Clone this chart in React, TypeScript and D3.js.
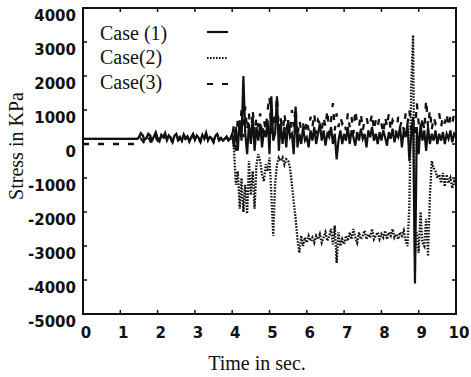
import React from 'react';
import * as d3 from 'd3';

// samples every 0.05 s, one row per second
const dt = 0.05;

const case1: number[] = [
  150, 150, 150, 150, 150, 150, 150, 150, 150, 150, 150, 150, 150, 150, 150, 150, 150, 150, 150, 150,
  150, 150, 150, 150, 150, 150, 150, 150, 150, 150, 200, 320, 250, 120, 180, 300, 240, 100, 220, 340,
  160, 80, 270, 200, 320, 110, 250, 180, 60, 240, 300, 140, 210, 90, 280, 160, 230, 70, 200, 300,
  120, 250, 180, 90, 270, 150, 330, 100, 210, 170, 60, 240, 300, 130, 180, 100, 150, 220, 120, 160,
  300, -100, 500, -200, 700, 100, 2000, 300, -300, 600, 0, 800, -200, 500, 100, 600, -100, 400, 200, 700,
  -300, 1400, 100, 300, 1400, -200, 600, 0, 500, -100, 700, 200, 300, -300, 1100, -100, 300, 0, 500, 100,
  200, -100, 400, 100, 500, 0, 300, 600, 100, 400, -50, 300, 200, 500, 0, 300, -450, 100, 400, 0,
  300, 100, 500, 0, 400, 200, -50, 350, 100, 450, 150, 300, -100, 400, 200, 500, 100, 300, 0, 350,
  100, 400, 200, -50, 350, 150, 450, 50, 300, 200, 500, -100, 400, 200, 600, -500, 300, 800, -4100, 500,
  -300, 600, 100, 400, -200, 500, 0, 300, 100, 400, 0, 300, 100, 350, 0, 300, 150, 400, 50, 300,
  200,
];

const case2: number[] = [
  150, 150, 150, 150, 150, 150, 150, 150, 150, 150, 150, 150, 150, 150, 150, 150, 150, 150, 150, 150,
  150, 150, 150, 150, 150, 150, 150, 150, 150, 150, 180, 300, 260, 140, 170, 280, 250, 120, 200, 320,
  180, 100, 250, 210, 300, 130, 240, 190, 80, 230, 280, 150, 200, 110, 260, 170, 220, 90, 190, 280,
  140, 240, 170, 100, 250, 160, 310, 120, 200, 180, 80, 230, 280, 140, 170, 110, 160, 210, 130, 150,
  300, -200, -1200, -800, -1900, -1000, -2000, -1200, -2050, -500, -1500, -800, -1900, -600, -300, -500, -900, -1100, -600, -800,
  -400, -1500, -2700, -1200, -600, -400, -500, -400, -600, -450, -500, -700, -1200, -1700, -2200, -2800, -3200, -2700, -3000, -2750,
  -2900, -2700, -2850, -2750, -2900, -2700, -2800, -2650, -2900, -2750, -2600, -2850, -2700, -2500, -2950, -2400, -3500, -2600, -3000, -2800,
  -2950, -2700, -2850, -2600, -2800, -2500, -2750, -2900, -2600, -2800, -2700, -2550, -2800, -2650, -2750, -2500, -2800, -2700, -2600, -2800,
  -2650, -2750, -2550, -2800, -2600, -2700, -2500, -2750, -2650, -2800, -2600, -2700, -2550, -2850, -3000, -1800, 1700, 3200, -3300, -2600,
  -3200, -2000, -2900, -3000, -2200, -3300, -1500, -500, -700, -800, -1000, -900, -1150, -850, -1250, -900, -1150, -1000, -1300, -1100,
  -1200,
];

const case3: number[] = [
  0, 0, 0, 0, 0, 0, 0, 0, 0, 0, 0, 0, 0, 0, 0, 0, 0, 0, 0, 0,
  0, 0, 0, 0, 0, 0, 0, 0, 0, 0, 50, 150, 100, 0, 100, 200, 100, 0, 150, 200,
  100, 50, 200, 150, 250, 100, 200, 150, 50, 200, 250, 100, 150, 50, 200, 150, 200, 50, 150, 250,
  100, 200, 150, 50, 200, 100, 250, 50, 150, 150, 50, 200, 250, 100, 150, 50, 100, 200, 100, 150,
  200, 600, -200, 800, 300, 1000, 200, 1100, 400, 900, 100, 1000, 300, 800, 500, 900, 200, 700, 400, 1000,
  1400, 300, 900, 500, 1400, 400, 800, 200, 900, 400, 700, 300, 1000, 500, 1100, 200, 700, 400, 600, 300,
  700, 400, 800, 500, 900, 300, 700, 600, 400, 800, 500, 1000, 300, 700, 1200, 400, 900, 500, 800, 600,
  700, 400, 900, 500, 800, 300, 1000, 600, 500, 900, 400, 700, 800, 500, 600, 900, 400, 700, 500, 800,
  600, 300, 800, 500, 900, 400, 700, 600, 300, 800, 500, 700, 400, 900, 600, 1000, 400, 700, 300, 1200,
  600, 200, 800, 400, 1300, 500, 1000, 400, 800, 600, 700, 900, 500, 800, 600, 900, 500, 800, 600, 900,
  1000,
];

const xTicks = [0, 1, 2, 3, 4, 5, 6, 7, 8, 9, 10];
const yTicks = [4000, 3000, 2000, 1000, 0, -1000, -2000, -3000, -4000, -5000];
const legendLabels = ['Case (1)', 'Case(2)', 'Case(3)'];
const dashes = ['none', '1.6,1.4', '6,9'];

const W = 471;
const H = 377;
const left = 83, right = 456, top = 8, bottom = 314;

export default function App() {
  const x = d3.scaleLinear().domain([0, 10]).range([left, right]);
  const y = d3.scaleLinear().domain([-5000, 4000]).range([bottom, top]);

  const line = d3.line<number>()
    .x((_, i) => x(i * dt))
    .y(d => y(d));

  const series = [case3, case2, case1];
  const seriesDash = [dashes[2], dashes[1], dashes[0]];
  const sans = 'DejaVu Sans, sans-serif';
  const serif = 'Liberation Serif, Times New Roman, serif';

  return (
    <svg width={W} height={H} style={{ position: 'absolute', left: 0, top: 0, background: '#fff' }}>
      <defs>
        <clipPath id="plot">
          <rect x={left} y={top} width={right - left} height={bottom - top} />
        </clipPath>
      </defs>

      <g clipPath="url(#plot)">
        {series.map((s, k) => (
          <path key={k} d={line(s) || ''} fill="none" stroke="#111"
            strokeWidth={seriesDash[k] === 'none' ? 2.2 : 2.3}
            strokeDasharray={seriesDash[k]} />
        ))}
      </g>

      <rect x={left} y={top} width={right - left} height={bottom - top}
        fill="none" stroke="#111" strokeWidth={2} />

      {xTicks.map(t => (
        <g key={'x' + t}>
          <line x1={x(t)} x2={x(t)} y1={bottom} y2={bottom - 4} stroke="#111" strokeWidth={1.5} />
          <line x1={x(t)} x2={x(t)} y1={top} y2={top + 4} stroke="#111" strokeWidth={1.5} />
          <text x={x(t) + 3} y={333} textAnchor="middle" dominantBaseline="middle"
            fontFamily={sans} fontWeight="bold" fontSize={15} fill="#111">{t}</text>
        </g>
      ))}

      {yTicks.map(v => (
        <g key={'y' + v}>
          <line x1={left} x2={left + 4} y1={y(v)} y2={y(v)} stroke="#111" strokeWidth={1.5} />
          <line x1={right} x2={right - 4} y1={y(v)} y2={y(v)} stroke="#111" strokeWidth={1.5} />
          <text x={76} y={y(v) + 8} textAnchor="end" dominantBaseline="middle"
            fontFamily={sans} fontWeight="bold" fontSize={15} fill="#111">{v}</text>
        </g>
      ))}

      {legendLabels.map((lab, k) => (
        <g key={lab}>
          <text x={100} y={35 + k * 24.5} dominantBaseline="middle"
            fontFamily={serif} fontSize={20} fill="#111">{lab}</text>
          <line x1={207} x2={228} y1={32 + k * 26} y2={32 + k * 26} stroke="#111"
            strokeWidth={2.2} strokeDasharray={dashes[k]} />
        </g>
      ))}

      <text x={257} y={365} textAnchor="middle" dominantBaseline="middle"
        fontFamily={serif} fontSize={20} fill="#111">Time in sec.</text>
      <text transform="translate(18,146) rotate(-90)" textAnchor="middle" dominantBaseline="middle"
        fontFamily={serif} fontSize={20} fill="#111">Stress in KPa</text>
    </svg>
  );
}
